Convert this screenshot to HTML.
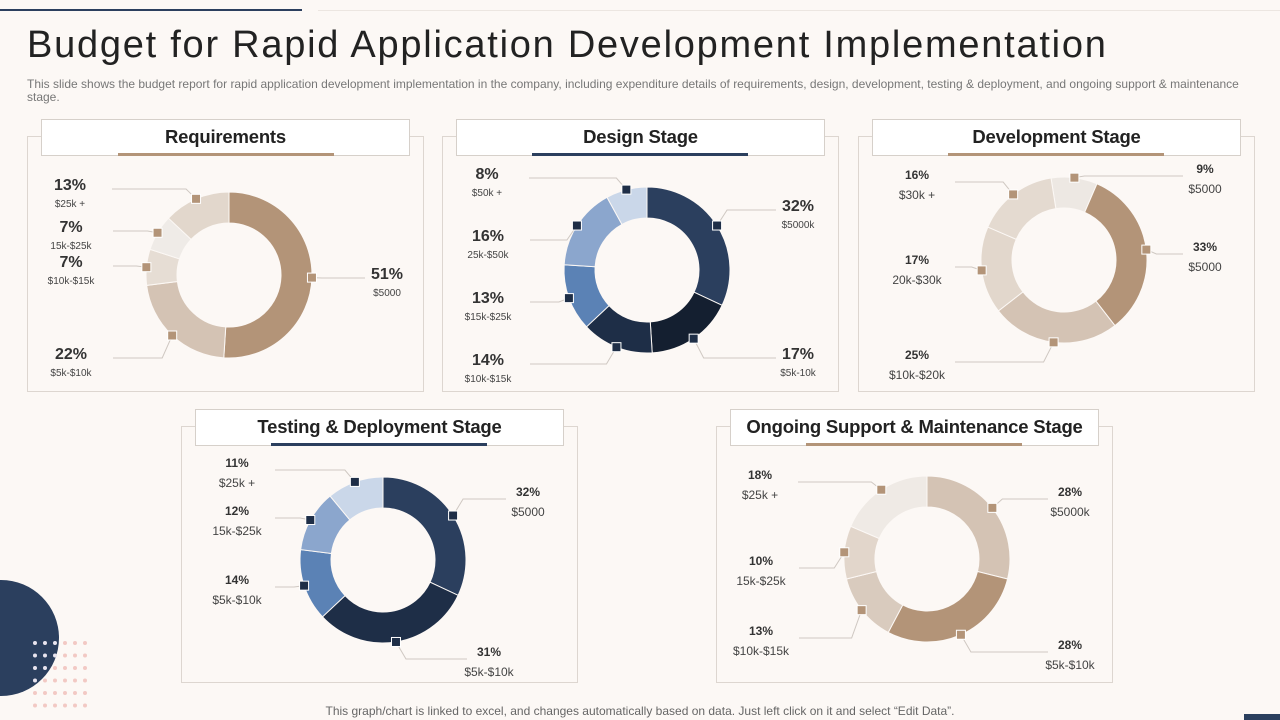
<!DOCTYPE html>
<html><head><meta charset="utf-8">
<style>
body{margin:0;width:1280px;height:720px;overflow:hidden;background:#fcf8f5;font-family:"Liberation Sans",sans-serif;position:relative}
.abs{position:absolute}
.panel{position:absolute;border:1px solid #ddd6d0;background:#fcf8f5}
.tbox{position:absolute;border:1px solid #d6d0ca;background:#fff;height:35px;line-height:33px;text-align:center;font-weight:bold;font-size:18.5px;letter-spacing:-0.2px;color:#222}
.ul{position:absolute;height:3px}
</style></head><body>
<div class="abs" style="left:0;top:9px;width:302px;height:2px;background:#2b3f5e"></div>
<div class="abs" style="left:318px;top:10px;width:962px;height:1px;background:#ece6e1"></div>
<div class="abs" style="left:27px;top:24px;font-size:38px;color:#222;letter-spacing:1.75px">Budget for Rapid Application Development Implementation</div>
<div class="abs" style="left:27px;top:78px;width:1222px;font-size:12px;line-height:13px;letter-spacing:0px;color:#777">This slide shows the budget report for rapid application development implementation in the company, including expenditure details of requirements, design, development, testing &amp; deployment, and ongoing support &amp; maintenance stage.</div>

<div class="panel" style="left:27px;top:136px;width:395px;height:254px"></div>
<div class="tbox" style="left:41px;top:119px;width:367px">Requirements</div>
<div class="ul" style="left:118px;top:153px;width:216px;background:#b39478"></div>

<div class="panel" style="left:442px;top:136px;width:395px;height:254px"></div>
<div class="tbox" style="left:456px;top:119px;width:367px">Design Stage</div>
<div class="ul" style="left:532px;top:153px;width:216px;background:#2b3f5e"></div>

<div class="panel" style="left:858px;top:136px;width:395px;height:254px"></div>
<div class="tbox" style="left:872px;top:119px;width:367px">Development Stage</div>
<div class="ul" style="left:948px;top:153px;width:216px;background:#b39478"></div>

<div class="panel" style="left:181px;top:426px;width:395px;height:255px"></div>
<div class="tbox" style="left:195px;top:409px;width:367px">Testing &amp; Deployment Stage</div>
<div class="ul" style="left:271px;top:443px;width:216px;background:#2b3f5e"></div>

<div class="panel" style="left:716px;top:426px;width:395px;height:255px"></div>
<div class="tbox" style="left:730px;top:409px;width:367px">Ongoing Support &amp; Maintenance Stage</div>
<div class="ul" style="left:806px;top:443px;width:216px;background:#b39478"></div>

<svg class="abs" style="left:0;top:0" width="1280" height="720" id="svg"></svg>
<div class="abs" style="left:0;width:1280px;text-align:center;top:704px;font-size:12px;color:#666">This graph/chart is linked to excel,  and changes automatically based on data. Just left click on it and select “Edit Data”.</div>
<div class="abs" style="left:1244px;top:714px;width:36px;height:6px;background:#2b3f5e"></div>
<script>
const reqValues=[51,22,7,7,13];
const reqLabels=["$5000","$5k-$10k","$10k-$15k","15k-$25k","$25k +"];
const desValues=[32,17,14,13,16,8];
const desLabels=["$5000k","$5k-10k","$10k-$15k","$15k-$25k","25k-$50k","$50k +"];
const devValues=[9,33,25,17,16];
const devLabels=["$5000","$5000","$10k-$20k","20k-$30k","$30k +"];
const tstValues=[32,31,14,12,11];
const tstLabels=["$5000","$5k-$10k","$5k-$10k","15k-$25k","$25k +"];
const supValues=[28,28,13,10,18];
const supLabels=["$5000k","$5k-$10k","$10k-$15k","15k-$25k","$25k +"];

const NS="http://www.w3.org/2000/svg";
const svg=document.getElementById('svg');
function el(t,a){const e=document.createElementNS(NS,t);for(const k in a)e.setAttribute(k,a[k]);svg.appendChild(e);return e;}
const dc=el('circle',{cx:1,cy:638,r:58,fill:'#2b3f5e'});


for(let r=0;r<6;r++)for(let c=0;c<6;c++){
 const x=35+c*10,y=643+r*12.5;const inC=((x-1)**2+(y-638)**2)<58*58;
 const d=el('circle',{cx:x,cy:y,r:2,fill:inC?'#e8e4ef':'#f2c9c4'});
 
 
}
function donut(name,vals,labels,cx,cy,start,colors,mcol,labelPos,big){
 const R=83,r=52,tot=vals.reduce((a,b)=>a+b,0);let a0=start;
 vals.forEach((v,i)=>{
  const a1=a0+v/tot,A=a0*2*Math.PI-Math.PI/2,B=a1*2*Math.PI-Math.PI/2,lg=(a1-a0)>0.5?1:0;
  const p=`M${cx+R*Math.cos(A)},${cy+R*Math.sin(A)} A${R},${R} 0 ${lg} 1 ${cx+R*Math.cos(B)},${cy+R*Math.sin(B)} L${cx+r*Math.cos(B)},${cy+r*Math.sin(B)} A${r},${r} 0 ${lg} 0 ${cx+r*Math.cos(A)},${cy+r*Math.sin(A)}Z`;
  const s=el('path',{d:p,fill:colors[i],stroke:'#fcf8f5','stroke-width':1});
  
  
  const M=((a0+a1)/2)*2*Math.PI-Math.PI/2,mx=cx+R*Math.cos(M),my=cy+R*Math.sin(M);
  const lp=labelPos[i],right=lp[0]>cx;
  const lx=right?lp[0]-22:lp[0]+(big?42:38), ly=lp[1]+(big?-1:3);
  const ln=el('polyline',{points:`${mx},${my} ${mx+(right?10:-10)},${ly} ${lx},${ly}`,fill:'none',stroke:'#cfc8c2','stroke-width':1});
  
  
  const m=el('rect',{x:mx-4.5,y:my-4.5,width:9,height:9,fill:mcol,stroke:'#fff','stroke-width':1});
  
  
  const t1=el('text',{x:lp[0],y:lp[1],'text-anchor':'middle','font-size':big?16:12,'font-weight':'bold',fill:'#333'});
  t1.textContent=v+'%';
  
  
  const t2=el('text',{x:lp[0],y:lp[1]+(big?17:20),'text-anchor':'middle','font-size':big?10:12,fill:'#444'});
  t2.textContent=labels[i];
  
  
  a0=a1;
 });
}
donut('requirements',reqValues,reqLabels,229,275,0,['#b39478','#d4c3b4','#e6ddd4','#efebe7','#e2d7cc'],'#b39478',[[387,279],[71,359],[71,267],[71,232],[70,190]],true);
donut('design',desValues,desLabels,647,270,0,['#2b3f5e','#141f30','#1e2e47','#5b82b5','#8ba6cd','#cad7e9'],'#1e2e47',[[798,211],[798,359],[488,365],[488,303],[488,241],[487,179]],true);
donut('development',devValues,devLabels,1064,260,-0.025,['#ede8e3','#b39478','#d4c3b4','#e2d7cc','#e4dad0'],'#b39478',[[1205,173],[1205,251],[917,359],[917,264],[917,179]],false);
donut('testing',tstValues,tstLabels,383,560,0,['#2b3f5e','#1e2e47','#5b82b5','#8ba6cd','#cad7e9'],'#1e2e47',[[528,496],[489,656],[237,584],[237,515],[237,467]],false);
donut('support',supValues,supLabels,927,559,0,['#d4c3b4','#b39478','#d9cbbe','#e2d6cb','#efeae5'],'#b39478',[[1070,496],[1070,649],[761,635],[761,565],[760,479]],false);
</script>
</body></html>
